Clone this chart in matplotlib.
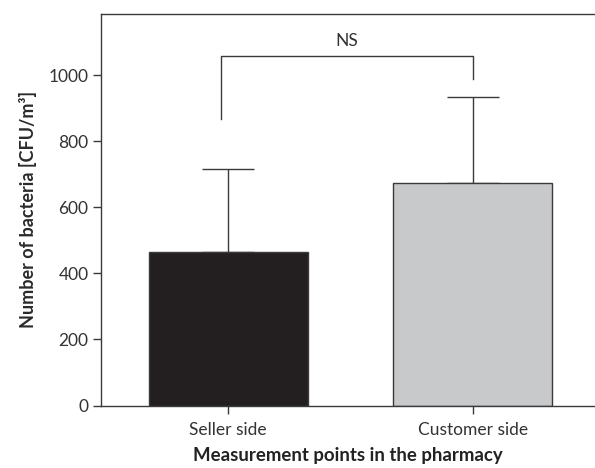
import numpy as np
import matplotlib
matplotlib.use('Agg')
import matplotlib.pyplot as plt

plt.rcParams['font.family'] = ['Lato', 'DejaVu Sans']

# data
categories = ['Seller side', 'Customer side']
means = [465, 674]
sd_upper = [250, 259]   # error bar length above bar
bar_colors = ['#231f20', '#c8c9cb']
bracket_y = 1057
bracket_left_bottom = 866
bracket_right_bottom = 988
sig_label = 'NS'
yticks = [0, 200, 400, 600, 800, 1000]

line_col = '#3a3a3a'

fig = plt.figure(figsize=(5.95, 4.68), dpi=100)
ax = fig.add_axes([101/595, 1-405.5/468, 1-101/595, (405.5-14)/468])

x = np.arange(len(categories))
ax.bar(x, means, width=0.65, color=bar_colors, edgecolor=line_col, linewidth=1.0, zorder=2)
ax.errorbar(x, means, yerr=[np.zeros(len(means)), sd_upper], fmt='none',
            ecolor=line_col, elinewidth=1.0, capsize=19, capthick=1.0, zorder=1)

# significance bracket
xl = x[0] - 0.03
xr = x[1]
ax.plot([xl, xl, xr, xr], [bracket_left_bottom, bracket_y, bracket_y, bracket_right_bottom],
        color=line_col, linewidth=1.0, clip_on=False)
ax.text((xl + xr) / 2, bracket_y + 22, sig_label, ha='center', va='bottom', fontsize=12.5, color='#333333')

ax.set_xlim(-0.52, 1.5)
ax.set_ylim(0, 1185)
ax.set_yticks(yticks)
ax.set_xticks(x)
ax.set_xticklabels(categories)

for s in ['left', 'top', 'bottom']:
    ax.spines[s].set_color(line_col)
    ax.spines[s].set_linewidth(1.0)
ax.spines['right'].set_visible(False)

ax.tick_params(axis='both', colors=line_col, labelcolor='#333333', labelsize=12.5, length=6, width=1.0)
ax.tick_params(axis='y', pad=3)
ax.tick_params(axis='x', pad=6)

ax.set_ylabel('Number of bacteria [CFU/m³]', fontsize=13, fontweight='bold', color='#2a2a2a', labelpad=8)
ax.set_xlabel('Measurement points in the pharmacy', fontsize=13.4, fontweight='bold', color='#222222', labelpad=6)

fig.savefig('out.png', dpi=100)
